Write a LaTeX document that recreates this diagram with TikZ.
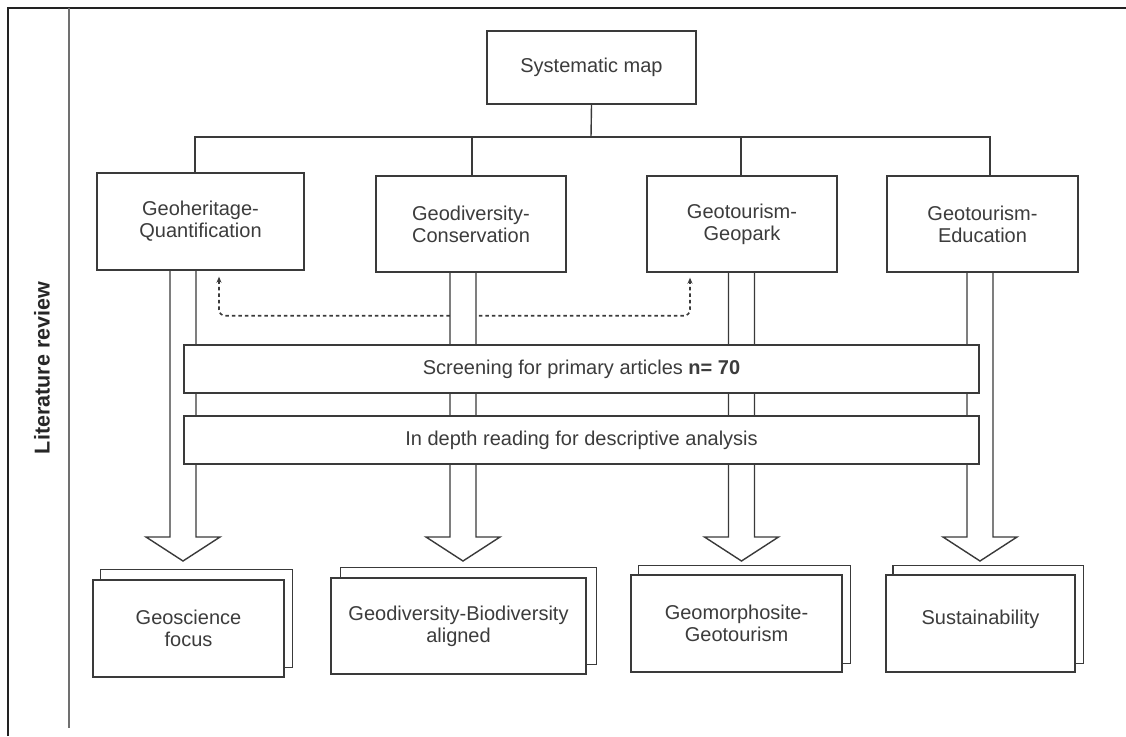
\documentclass[tikz,border=0pt]{standalone}
\usepackage{fontspec}
\setmainfont{Liberation Sans}
\usetikzlibrary{arrows.meta,calc,backgrounds}
\definecolor{lc}{HTML}{3A3A3A}
\definecolor{tc}{HTML}{3C3C3C}
\definecolor{fc}{HTML}{222222}
\definecolor{ic}{HTML}{707070}
\tikzset{
  boxline/.style={draw=lc, line width=1.4pt},
  box/.style={boxline, fill=white, align=center, inner sep=0pt, text=tc,
    font=\fontsize{20}{22}\selectfont},
  conn/.style={draw=lc, line width=1.4pt},
  barrow/.style={draw=lc, line width=1.4pt, fill=white, line join=miter},
  dconn/.style={draw=lc, line width=1.6pt, dash pattern=on 3.5pt off 3pt,
    rounded corners=6pt, {Stealth[length=6pt,width=5pt]}-{Stealth[length=6pt,width=5pt]}},
  frameline/.style={draw=fc, line width=1.4pt},
  innerline/.style={draw=ic, line width=1.4pt}
}
\newcommand\bigarrow[2]{%
  \draw[barrow] ($(#1.south -| #2)+(-13,0)$) -- ($(#2)+(-13,-24)$) -- ($(#2)+(-37,-24)$)
    -- (#2) -- ($(#2)+(37,-24)$) -- ($(#2)+(13,-24)$) -- ($(#1.south -| #2)+(13,0)$);}
\begin{document}
\begin{tikzpicture}[x=1pt,y=-1pt]
\useasboundingbox (0,0) rectangle (1126,736);
% frame
\coordinate (ftl) at (8,8);
\coordinate (ftr) at (1126,8);
\coordinate (fbl) at (8,736);
\coordinate (itop) at (69,8);
\coordinate (ibot) at (69,728);
\draw[frameline] (fbl) -- (ftl) -- (ftr);
\draw[innerline] (itop) -- (ibot);
\node[rotate=90, font=\bfseries\fontsize{21.5}{24}\selectfont, text=black!85] (lit) at (42,368) {Literature review};

% top nodes
\node[box, minimum width=209pt, minimum height=73pt] (sm) at (591.5,67.5) {Systematic map};
\node[box, minimum width=207pt, minimum height=97pt] (gq) at (200.5,221.5) {Geoheritage-\\Quantification};
\node[box, minimum width=190pt, minimum height=96pt] (gc) at (471,224) {Geodiversity-\\Conservation};
\node[box, minimum width=190pt, minimum height=96pt] (gp) at (742,224) {Geotourism-\\Geopark};
\node[box, minimum width=191pt, minimum height=96pt] (ge) at (982.5,224) {Geotourism-\\Education};

% tree connectors
\coordinate (bus) at (591,137);
\draw[conn] (sm.south) -- (bus);
\draw[conn] (bus) -| ([xshift=-5.5pt]gq.north);
\draw[conn] (bus) -| ([xshift=1pt]gc.north);
\draw[conn] (bus) -| ([xshift=-1pt]gp.north);
\draw[conn] (bus) -| ([xshift=7.5pt]ge.north);

% background elements
\begin{scope}[on background layer]
  % dashed connector
  \coordinate (ds) at ($(gq.south)+(18.5,6)$);
  \coordinate (de) at ($(gp.south)+(-52,5)$);
  \draw[dconn] (ds) -- ++(0,39) coordinate (dc) -| (de);
  % tips
  \coordinate (t1) at (183,561);
  \coordinate (t2) at (463,561);
  \coordinate (t3) at (741.5,561);
  \coordinate (t4) at (980,561);
  \bigarrow{gq}{t1}
  \bigarrow{gc}{t2}
  \bigarrow{gp}{t3}
  \bigarrow{ge}{t4}
  \node[box, minimum width=795pt, minimum height=48pt] (scr) at (581.5,369)
    {Screening for primary articles \textbf{n= 70}};
  \node[box, minimum width=795pt, minimum height=48pt] (idr) at (581.5,440)
    {In depth reading for descriptive analysis};
\end{scope}

% bottom stacked boxes
\node[box, minimum width=191pt, minimum height=97pt] (f1) at (188.5,628.5) {Geoscience\\focus};
\node[box, minimum width=255pt, minimum height=96pt] (f2) at (458.5,626) {Geodiversity-Biodiversity\\aligned};
\node[box, minimum width=211pt, minimum height=97pt] (f3) at (736.5,623.5) {Geomorphosite-\\Geotourism};
\node[box, minimum width=189pt, minimum height=97pt, text depth=12pt] (f4) at (980.5,623.5) {Sustainability};
\begin{scope}[on background layer]
  \draw[boxline, fill=white] ($(f1.south west)+(8,-10)$) rectangle ($(f1.north east)+(8,-10)$);
  \draw[boxline, fill=white] ($(f2.south west)+(10,-10)$) rectangle ($(f2.north east)+(10,-10)$);
  \draw[boxline, fill=white] ($(f3.south west)+(8,-9)$) rectangle ($(f3.north east)+(8,-9)$);
  \draw[boxline, fill=white] ($(f4.south west)+(7.5,-9)$) rectangle ($(f4.north east)+(7.5,-9)$);
\end{scope}
\end{tikzpicture}
\end{document}
